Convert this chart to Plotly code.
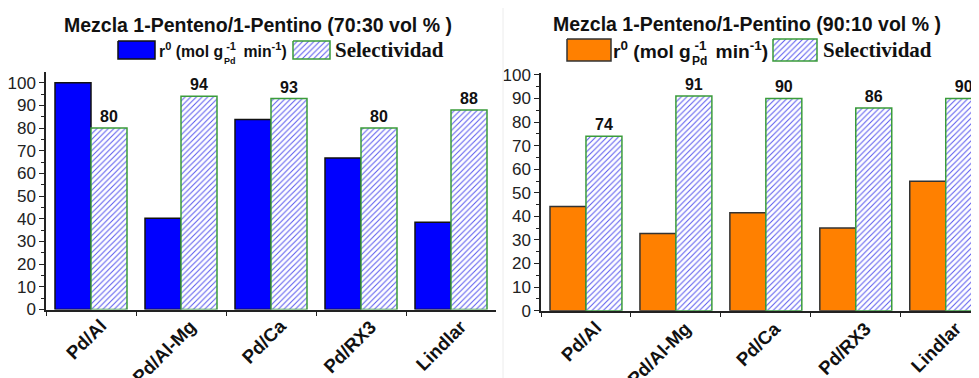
import plotly.graph_objects as go

# ---------------- data ----------------
categories = ["Pd/Al", "Pd/Al-Mg", "Pd/Ca", "Pd/RX3", "Lindlar"]
r0_70_30 = [100, 40.2, 83.8, 66.8, 38.5]
sel_70_30 = [80, 94, 93, 80, 88]
r0_90_10 = [44.2, 32.7, 41.5, 35.1, 54.9]
sel_90_10 = [74, 91, 90, 86, 90]
y_ticks = [0, 10, 20, 30, 40, 50, 60, 70, 80, 90, 100]

title_left = "Mezcla 1-Penteno/1-Pentino (70:30 vol % )"
title_right = "Mezcla 1-Penteno/1-Pentino (90:10 vol % )"
legend_rate = "r<sup>0</sup> (mol g<sup>\u00a0-1\u00a0</sup> min<sup>-1</sup>)"
legend_rate_sub = "Pd"
legend_sel = "Selectividad"

# ---------------- layout helpers ----------------
# the page body has an 8px margin, so the figure starts at (8, 8) in the window
OFF = 8
W, H = 979 - OFF, 378 - OFF
SANS = "Liberation Sans, Arial, sans-serif"
SERIF = "Liberation Serif, Times New Roman, serif"


def fx(px):
    return (px - OFF) / W


def fy(py):
    return 1 - (py - OFF) / H


hatch = dict(shape="/", fgcolor="#5858ee", bgcolor="white", size=4,
             solidity=0.25, fillmode="replace")
green = "#3a9c3a"

fig = go.Figure()

# left panel bars
fig.add_bar(x=categories, y=r0_70_30, xaxis="x", yaxis="y",
            marker=dict(color="#0000ff", line=dict(color="#111111", width=1.5)))
fig.add_bar(x=categories, y=sel_70_30, xaxis="x", yaxis="y",
            marker=dict(color="white", pattern=hatch, line=dict(color=green, width=1.5)),
            text=sel_70_30, texttemplate="<b>%{text}</b>", textposition="outside",
            constraintext="none",
            textfont=dict(family=SANS, size=16, color="#111"), cliponaxis=False)
# right panel bars
fig.add_bar(x=categories, y=r0_90_10, xaxis="x2", yaxis="y2",
            marker=dict(color="#ff8000", line=dict(color="#333333", width=1.5)))
fig.add_bar(x=categories, y=sel_90_10, xaxis="x2", yaxis="y2",
            marker=dict(color="white", pattern=hatch, line=dict(color=green, width=1.5)),
            text=sel_90_10, texttemplate="<b>%{text}</b>", textposition="outside",
            constraintext="none",
            textfont=dict(family=SANS, size=16, color="#111"), cliponaxis=False)


# legend swatches on a full-window pixel overlay axis
def swatch(x0, x1, y0, y1, fill=None, line="#111", pattern=None):
    kw = dict(x=[x0, x1, x1, x0, x0], y=[y0, y0, y1, y1, y0], mode="lines",
              fill="toself", line=dict(color=line, width=1.5), xaxis="x3", yaxis="y3",
              hoverinfo="skip", showlegend=False)
    if pattern:
        kw["fillpattern"] = pattern
        kw["fillcolor"] = "white"
    else:
        kw["fillcolor"] = fill
    fig.add_scatter(**kw)


swatch(118, 155, 41, 59, fill="#0000ff", line="#111")
swatch(293, 330, 41, 59, pattern=hatch, line=green)
swatch(567, 611, 39, 61, fill="#ff8000", line="#333")
swatch(773, 817, 39, 61, pattern=hatch, line=green)

axis_common = dict(showline=True, linecolor="#222", linewidth=1.5, showgrid=False,
                   zeroline=False, automargin=False)

fig.update_layout(
    width=W, height=H, margin=dict(l=0, r=0, t=0, b=0),
    paper_bgcolor="white", plot_bgcolor="rgba(0,0,0,0)",
    showlegend=False, barmode="group", bargap=0.2, bargroupgap=0,
    font=dict(family=SANS, color="#222"),
    xaxis=dict(domain=[fx(46), fx(496)], range=[-0.5, 4.5], anchor="y",
               ticks="outside", tickson="boundaries", ticklen=5, tickcolor="#222",
               showticklabels=False, **axis_common),
    yaxis=dict(domain=[fy(309.5), fy(72)], range=[0, 104.7], anchor="x",
               tickvals=y_ticks, ticks="outside", ticklen=5, tickcolor="#222",
               tickfont=dict(size=17, family=SANS, color="#222"),
               minor=dict(dtick=5, ticks="outside", ticklen=3, tickcolor="#222"),
               **axis_common),
    xaxis2=dict(domain=[fx(541), 1], range=[-0.5, 4.37], anchor="y2",
                ticks="outside", tickson="boundaries", ticklen=5, tickcolor="#222",
                showticklabels=False, **axis_common),
    yaxis2=dict(domain=[fy(310.7), fy(73)], range=[0, 100.8], anchor="x2",
                tickvals=y_ticks, ticks="outside", ticklen=5, tickcolor="#222",
                tickfont=dict(size=17, family=SANS, color="#222"),
                minor=dict(dtick=5, ticks="outside", ticklen=3, tickcolor="#222"),
                **axis_common),
    xaxis3=dict(domain=[0, 1], range=[OFF, OFF + W], anchor="y3", visible=False, fixedrange=True),
    yaxis3=dict(domain=[0, 1], range=[OFF + H, OFF], anchor="x3", visible=False, fixedrange=True),
)

ann = []
# titles
ann.append(dict(text="<b>" + title_left + "</b>", x=fx(258), y=fy(25), xref="paper", yref="paper",
                xanchor="center", yanchor="middle", showarrow=False,
                font=dict(family=SANS, size=19.5, color="#111")))
ann.append(dict(text="<b>" + title_right + "</b>", x=fx(747), y=fy(24), xref="paper", yref="paper",
                xanchor="center", yanchor="middle", showarrow=False,
                font=dict(family=SANS, size=19.5, color="#111")))
# legends
for (xr, xs, ysc, rs, ss) in [(157, 333, 50, 15.8, 21), (611, 821, 50, 19.2, 21)]:
    ann.append(dict(text="<b>" + legend_rate + "</b>", x=fx(xr), y=fy(ysc), xref="paper", yref="paper",
                    xanchor="left", yanchor="middle", showarrow=False,
                    font=dict(family=SANS, size=rs, color="#111")))
    ann.append(dict(text="<b>" + legend_rate_sub + "</b>", x=fx(xr + 4.1 * rs), y=fy(ysc + 11),
                    xref="paper", yref="paper", xanchor="left", yanchor="middle", showarrow=False,
                    font=dict(family=SANS, size=round(rs * 0.6), color="#111")))
    ann.append(dict(text="<b>" + legend_sel + "</b>", x=fx(xs), y=fy(ysc), xref="paper", yref="paper",
                    xanchor="left", yanchor="middle", showarrow=False,
                    font=dict(family=SERIF, size=ss, color="#111")))
# rotated category labels
for xa, top in [("x", 313), ("x2", 315)]:
    for c in categories:
        ann.append(dict(text="<b>" + c + "</b>", x=c, xref=xa, xshift=22, y=fy(top), yref="paper",
                        xanchor="right", yanchor="top", textangle=-45, showarrow=False,
                        font=dict(family=SANS, size=18.5, color="#111")))
fig.update_layout(annotations=ann)

# faint panel separator
fig.add_shape(type="line", x0=fx(503), x1=fx(503), y0=0, y1=1, xref="paper", yref="paper",
              line=dict(color="#ececec", width=1))

fig.write_html("out.html")
